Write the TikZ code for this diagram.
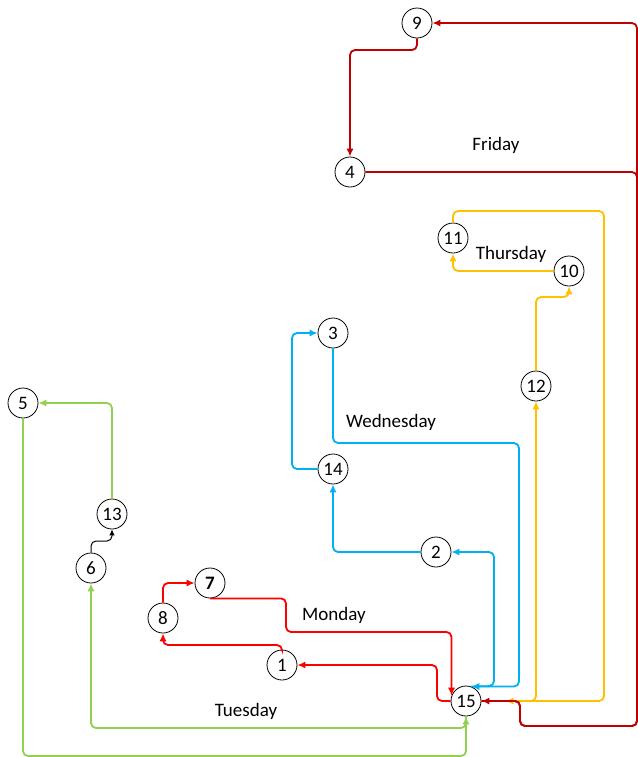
\documentclass[tikz,border=0pt]{standalone}
\usepackage{fontspec}
\setmainfont{Carlito}
\usetikzlibrary{arrows.meta}

\definecolor{friday}{HTML}{C00000}
\definecolor{thursday}{HTML}{FFC000}
\definecolor{wednesday}{HTML}{00B0F0}
\definecolor{monday}{HTML}{FF0000}
\definecolor{tuesday}{HTML}{92D050}

\begin{document}
\begin{tikzpicture}[
  x=0.5pt, y=-0.5pt,
  site/.style={
    draw=black,
    circle,
    fill=white,
    minimum size=15pt,
    inner sep=0pt,
    font=\fontsize{9.5}{11}\selectfont
  },
  route/.style={
    -{Latex[length=4pt,width=3.6pt]},
    line width=0.9pt,
    rounded corners=2.5pt
  },
  daylabel/.style={
    font=\fontsize{9.5}{11}\selectfont
  }
]
\useasboundingbox (0,0) rectangle (638,757);

\node[site] (n9)  at (417,23)  {9};
\node[site] (n4)  at (350,172) {4};
\node[site] (n11) at (453,238) {11};
\node[site] (n10) at (569,271) {10};
\node[site] (n3)  at (333,333) {3};
\node[site] (n12) at (536,386) {12};
\node[site] (n5)  at (23,403)  {5};
\node[site] (n14) at (333,469) {14};
\node[site] (n13) at (112,514) {13};
\node[site] (n6)  at (91,568)  {6};
\node[site] (n2)  at (436,552) {2};
\node[site] (n7)  at (210,583) {\textbf{7}};
\node[site] (n8)  at (163,618) {8};
\node[site] (n1)  at (282,665) {1};
\node[site] (n15) at (466,701) {15};

\node[daylabel] (friday)    at (496,145) {Friday};
\node[daylabel] (thursday)  at (511,254) {Thursday};
\node[daylabel] (wednesday) at (391,422) {Wednesday};
\node[daylabel] (monday)    at (334,615) {Monday};
\node[daylabel] (tuesday)   at (246,711) {Tuesday};

% Monday
\draw[route, monday] (n15.west) -- (437,701) |- (n1.east);
\draw[route, monday] (n1.north) -- (282,645) -| (n8.south);
\draw[route, monday] (n8.north) |- (n7.west);
\draw[route, monday] (n7.south) -| (286,632) -| (n15.160);

% Tuesday
\draw[route, tuesday] (n15.south) -- (466,728) -| (n6.south);
\draw[route, black, line width=0.5pt, -{Latex[length=3pt,width=2.8pt]}] (n6.north) -- (91,541) -| (n13.south);
\draw[route, tuesday] (n13.north) |- (n5.east);
\draw[route, tuesday] (n5.south) -- (23,756) -| (n15.south);

% Wednesday
\draw[route, wednesday] (n15.70) -- (494,686) |- (n2.east);
\draw[route, wednesday] (n2.west) -| (n14.south);
\draw[route, wednesday] (n14.west) -- (292,469) |- (n3.west);
\draw[route, wednesday] (n3.south) |- (519,443) |- (n15.70);

% Thursday
\draw[route, thursday] (n15.east) -| (n12.south);
\draw[route, thursday] (n12.north) -- (536,297) -| (n10.south);
\draw[route, thursday] (n10.west) -| (n11.south);
\draw[route, thursday, shorten >=12pt] (n11.north) |- (604,211) |- (n15.east);

% Friday
\draw[route, friday] (n15.east) -- (520,701) |- (637,726) |- (n9.east);
\draw[route, friday] (n9.south) |- (350,50) -- (n4.north);
\draw[route, friday] (n4.east) -- (637,172) |- (520,726) |- (n15.east);

\end{tikzpicture}
\end{document}
